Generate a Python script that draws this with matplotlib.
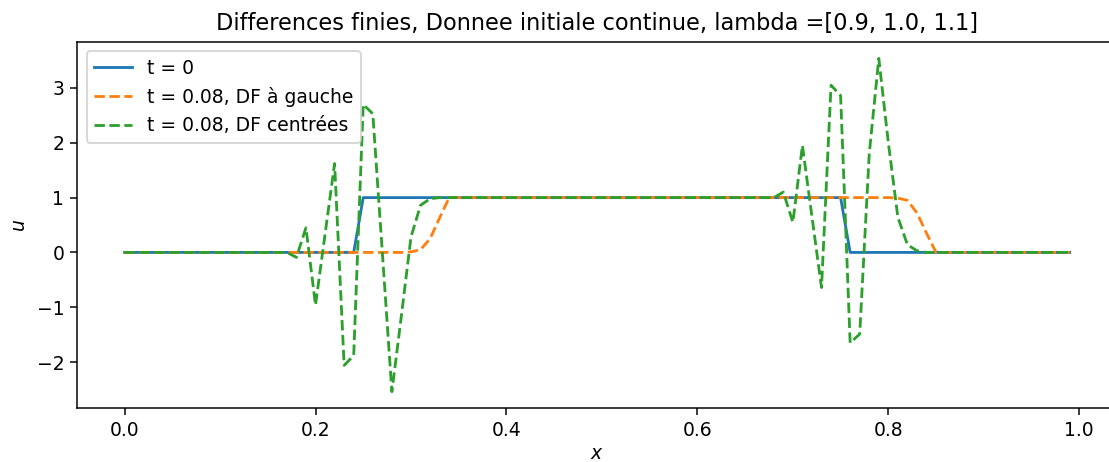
"""
plot.py - Differences finies : donnee initiale continue, comparaison DF a gauche / DF centrees
"""

import matplotlib
matplotlib.use("Agg")
import matplotlib.pyplot as plt
import numpy as np

# --- donnees ---

# maillage : 100 points, pas 0.01
n_points = 100
dx = 0.01

lambdas = [0.9, 1.0, 1.1]
t_final = 0.08

# t = 0 : creneau (0 -> indices 0..24, 1 -> 25..75, 0 -> 76..99)
u0_zero_left = 25
u0_ones = 51
u0_zero_right = 24

# DF a gauche : fronts lisses
gauche_zero_left = 30
gauche_front_left = [0.01, 0.05, 0.25, 0.63, 1.0]          # x = 0.30 .. 0.34
gauche_ones = 46
gauche_front_right = [0.99, 0.95, 0.72, 0.35, 0.0]         # x = 0.81 .. 0.85
gauche_zero_right = 14

# DF centrees : oscillations
centre_zero_left = 17
centre_osc_left = [0.0, -0.09, 0.45, -0.96, 0.33, 1.62, -2.06, -1.88, 2.70,
                   2.53, 0.0, -2.54, -1.15, 0.28, 0.86, 0.98, 1.0]   # x = 0.17 .. 0.33
centre_ones = 34
centre_osc_right = [1.0, 1.10, 0.55, 1.95, 0.65, -0.64, 3.05, 2.86, -1.65,
                    -1.49, 1.8, 3.54, 2.0, 0.64, 0.14, 0.03, 0.0]    # x = 0.68 .. 0.84
centre_zero_right = 15


def build(parts):
    """Assemble une serie a partir de morceaux (listes ou (valeur, longueur))."""
    out = []
    for p in parts:
        if isinstance(p, tuple):
            out.extend([p[0]] * p[1])
        else:
            out.extend(p)
    return np.array(out)


x = np.arange(n_points) * dx

u0 = build([(0.0, u0_zero_left), (1.0, u0_ones), (0.0, u0_zero_right)])
u_gauche = build([(0.0, gauche_zero_left), gauche_front_left, (1.0, gauche_ones),
                  gauche_front_right, (0.0, gauche_zero_right)])
u_centre = build([(0.0, centre_zero_left), centre_osc_left, (1.0, centre_ones),
                  centre_osc_right, (0.0, centre_zero_right)])

# --- figure ---
# la figure d'origine est rendue a ~135 dpi (polices et traits plus gros)
DPI = 135
fig, ax = plt.subplots(figsize=(1109 / DPI, 462 / DPI), dpi=DPI)
fig.subplots_adjust(left=0.0697, right=1117 / 1109, top=0.9097, bottom=0.1162)

ax.plot(x, u0, label="t = 0")
ax.plot(x, u_gauche, "--", label=f"t = {t_final}, DF à gauche")
ax.plot(x, u_centre, "--", label=f"t = {t_final}, DF centrées")

ax.set_xlabel("$x$", labelpad=2)
ax.set_ylabel("$u$")
ax.set_title(f"Differences finies, Donnee initiale continue, lambda ={lambdas}")
ax.legend(loc="upper left")

plt.savefig("out.png", dpi=DPI)
plt.close()
